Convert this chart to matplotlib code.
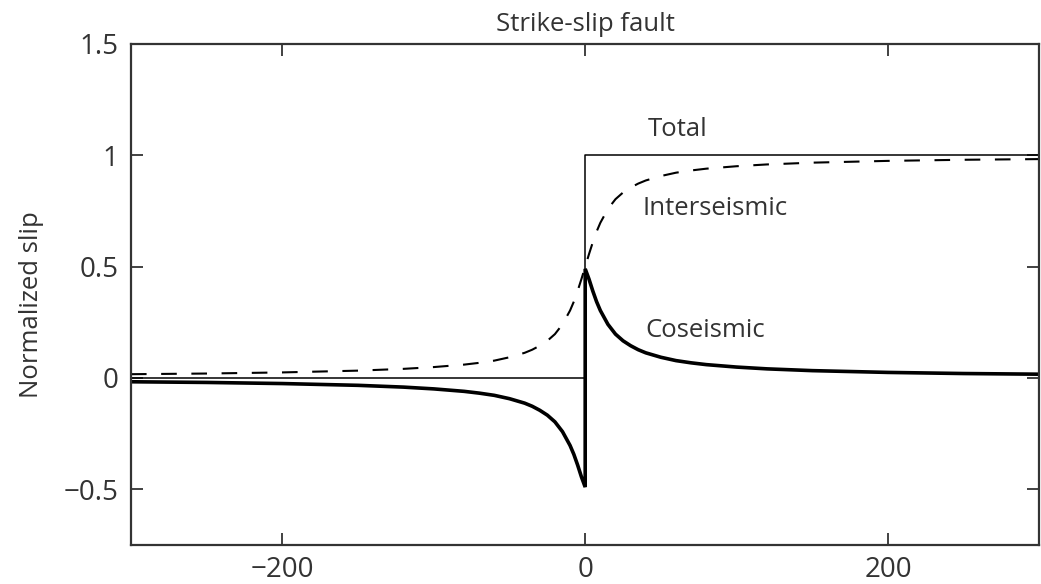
import matplotlib.pyplot as plt

plt.rcParams['font.family'] = ['Open Sans', 'DejaVu Sans']

# interseismic (dashed) slip
x_inter = [-300, -250, -200, -150, -120, -100, -80, -70, -60, -50, -40, -35, -30,
           -25, -20, -15, -10, -7.5, -5, -2.5, 0, 2.5, 5, 7.5, 10, 15, 20, 25,
           30, 35, 40, 50, 60, 70, 80, 100, 120, 150, 200, 250, 300]
y_inter = [0.017, 0.020, 0.025, 0.033, 0.041, 0.049, 0.060, 0.068, 0.078, 0.093,
           0.113, 0.127, 0.145, 0.167, 0.197, 0.241, 0.303, 0.343, 0.391, 0.444,
           0.500, 0.556, 0.609, 0.657, 0.697, 0.759, 0.803, 0.833, 0.855, 0.873,
           0.887, 0.907, 0.922, 0.932, 0.940, 0.951, 0.959, 0.967, 0.975, 0.980,
           0.983]

# coseismic (thick) slip, jumps at the fault
x_co = [-300, -250, -200, -150, -120, -100, -80, -70, -60, -50, -40, -35, -30,
        -25, -20, -15, -10, -7.5, -5, -2.5, 0, 0, 2.5, 5, 7.5, 10, 15, 20, 25,
        30, 35, 40, 50, 60, 70, 80, 100, 120, 150, 200, 250, 300]
y_co = [-0.017, -0.020, -0.025, -0.033, -0.041, -0.049, -0.060, -0.068, -0.078,
        -0.093, -0.113, -0.127, -0.145, -0.167, -0.197, -0.241, -0.303, -0.343,
        -0.391, -0.444, -0.490, 0.490, 0.444, 0.391, 0.343, 0.303, 0.241, 0.197,
        0.167, 0.145, 0.127, 0.113, 0.093, 0.078, 0.068, 0.060, 0.049, 0.041,
        0.033, 0.025, 0.020, 0.017]

# total slip, a step at x = 0
x_tot = [-300, 0, 0, 300]
y_tot = [0, 0, 1, 1]

labels = ["Total", "Interseismic", "Coseismic"]
label_x = [41, 38, 40]
label_y = [1.115, 0.76, 0.215]

fig = plt.figure(figsize=(10.41, 5.84), dpi=100)
ax = fig.add_axes([0.1258, 0.0668, 0.8727, 0.8579])

ax.plot(x_tot, y_tot, c="k", lw=1.1)
ax.plot(x_inter, y_inter, c="k", lw=1.5, ls=(0, (7.5, 7.0)))
ax.plot(x_co, y_co, c="k", lw=2.6, solid_joinstyle="miter")

for s, tx, ty in zip(labels, label_x, label_y):
    ax.text(tx, ty, s, fontsize=18.5, color="#333333", va="center", ha="left")

ax.set_xlim(-300, 300)
ax.set_ylim(-0.75, 1.5)
ax.set_xticks([-200, 0, 200])
ax.set_xticklabels(["\u2212200", "0", "200"])
ax.set_yticks([-0.5, 0, 0.5, 1, 1.5])
ax.set_yticklabels(["\u22120.5", "0", "0.5", "1", "1.5"])
ax.tick_params(direction="in", length=8.5, width=1.3, color="#333333",
               labelsize=20, labelcolor="#333333", top=True, right=True)
ax.tick_params(axis="y", pad=9)
ax.tick_params(axis="x", pad=8)
for sp in ax.spines.values():
    sp.set_linewidth(1.6)
    sp.set_color("#333333")

ax.set_title("Strike-slip fault", fontsize=18.5, color="#333333", pad=9)
ax.set_ylabel("Normalized slip", fontsize=18.5, color="#333333")
ax.yaxis.set_label_coords(-0.096, 0.48)

fig.savefig("out.png", dpi=100)
